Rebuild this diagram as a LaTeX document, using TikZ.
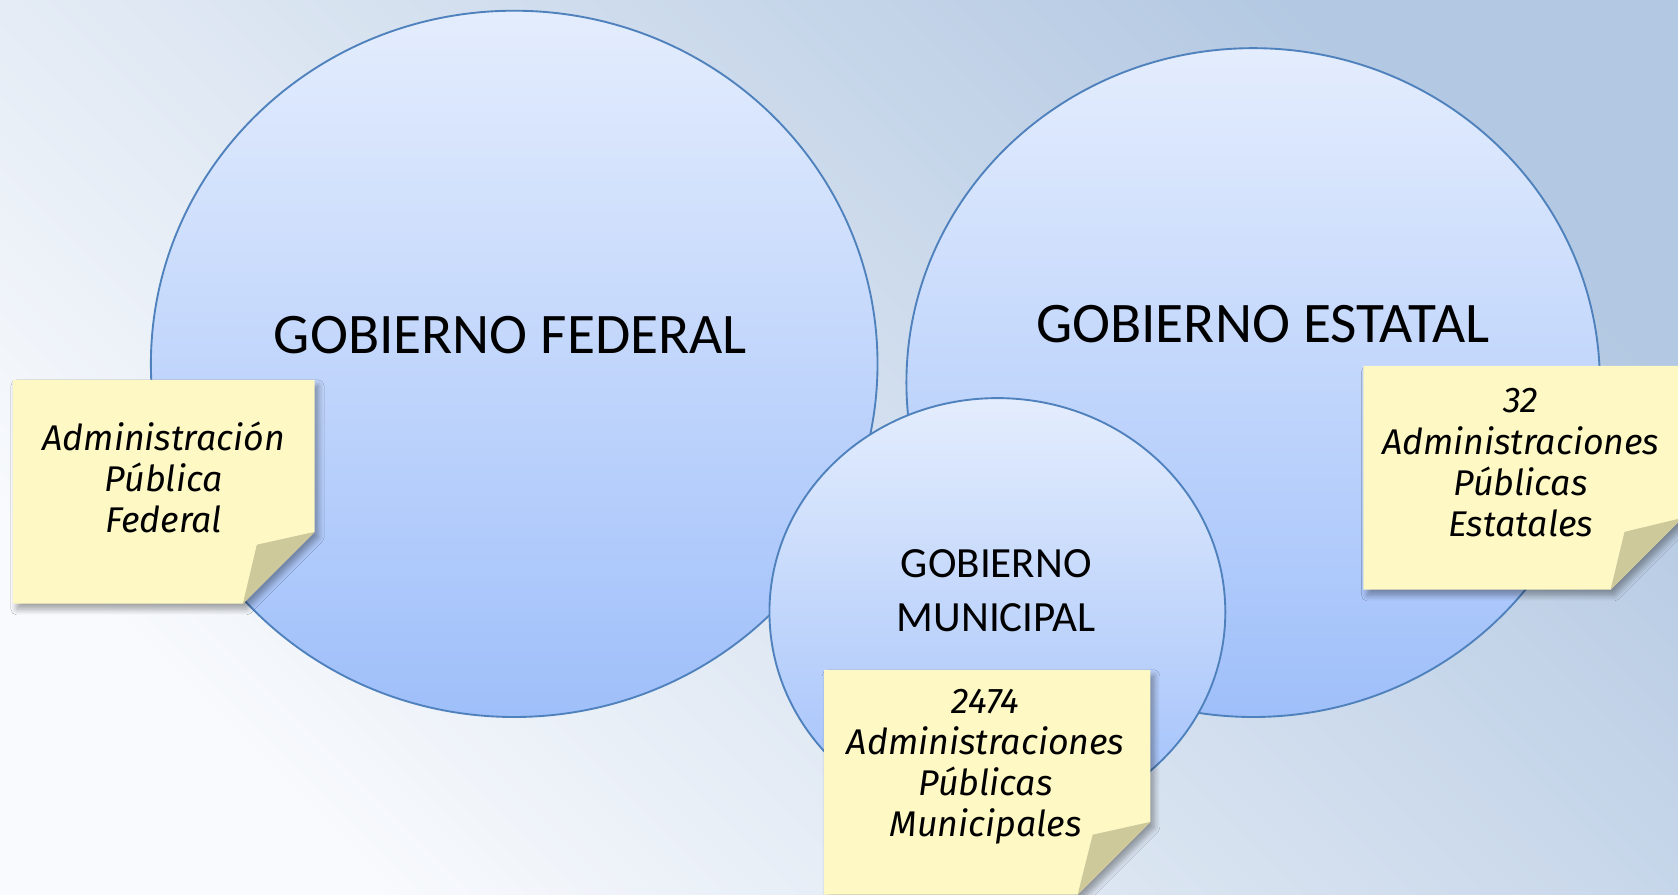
\documentclass[tikz,border=0pt]{standalone}
\usepackage{fontspec}
\setmainfont{Carlito}
\newfontfamily\notefont{Fira Sans}
\usetikzlibrary{shapes.geometric,shadows.blur}

\definecolor{bgdark}{HTML}{B3C8E2}
\definecolor{bglight}{HTML}{F8FAFD}
\definecolor{elltop}{HTML}{E4EDFD}
\definecolor{ellbot}{HTML}{9FBFFA}
\definecolor{ellline}{HTML}{4F81BD}
\definecolor{notefill}{HTML}{FEF8C5}
\definecolor{notefold}{HTML}{CDC99B}

\begin{document}
\begin{tikzpicture}[x=0.1mm,y=-0.1mm,
	gob/.style={ellipse,draw=ellline,line width=0.5pt,top color=elltop,bottom color=ellbot,inner sep=0pt},
	gobtext/.style={font=\fontsize{15.25}{18}\selectfont},
	note/.style={fill=notefill,blur shadow={shadow xshift=1pt,shadow yshift=-1.5pt,shadow blur radius=1.5pt,shadow blur steps=6,shadow opacity=35}},
	fold/.style={fill=notefold},
	notetext/.style={align=center,font=\notefont\itshape\fontsize{9.5}{10.95}\selectfont}]
	\useasboundingbox (0,0) rectangle (1568,836);
	\clip (0,0) rectangle (1568,836);
	\shade[top color=bgdark,bottom color=bglight,shading angle=-45] (0,0) rectangle (1568,836);

	% circles
	\node[gob,minimum width=67.9mm,minimum height=66mm] (fed) at (480.5,340) {};
	\node[gob,minimum width=64.8mm,minimum height=62.5mm] (est) at (1171,357.5) {};
	\node[gob,minimum width=42.6mm,minimum height=40mm] (mun) at (932,572) {};

	\node[gobtext] (fedtxt) at (477,313) {GOBIERNO FEDERAL};
	\node[gobtext] (esttxt) at (1180,303) {GOBIERNO ESTATAL};
	\node[align=center,font=\fontsize{11.45}{14.2}\selectfont] (muntxt) at (931,552) {GOBIERNO\\MUNICIPAL};

	% notes
	\fill[note] (12,355) -- (294,355) -- (294,497) -- (227,564) -- (12,564) -- cycle;
	\fill[fold] (294,497) -- (240,509) -- (227,564) -- cycle;
	\node[notetext] (fednote) at (153,446) {Administración\\Pública\\Federal};

	\fill[note] (1274,342) -- (1572,342) -- (1572,484) -- (1505,551) -- (1274,551) -- cycle;
	\fill[fold] (1572,484) -- (1518,497) -- (1505,551) -- cycle;
	\node[notetext] (estnote) at (1421,432.5) {32\\Administraciones\\Públicas\\Estatales};

	\fill[note] (770,626) -- (1075,626) -- (1075,768) -- (1007,836) -- (770,836) -- cycle;
	\fill[fold] (1075,768) -- (1021,780) -- (1007,836) -- cycle;
	\node[notetext] (munnote) at (921,716.5) {2474\\Administraciones\\Públicas\\Municipales};
\end{tikzpicture}
\end{document}
